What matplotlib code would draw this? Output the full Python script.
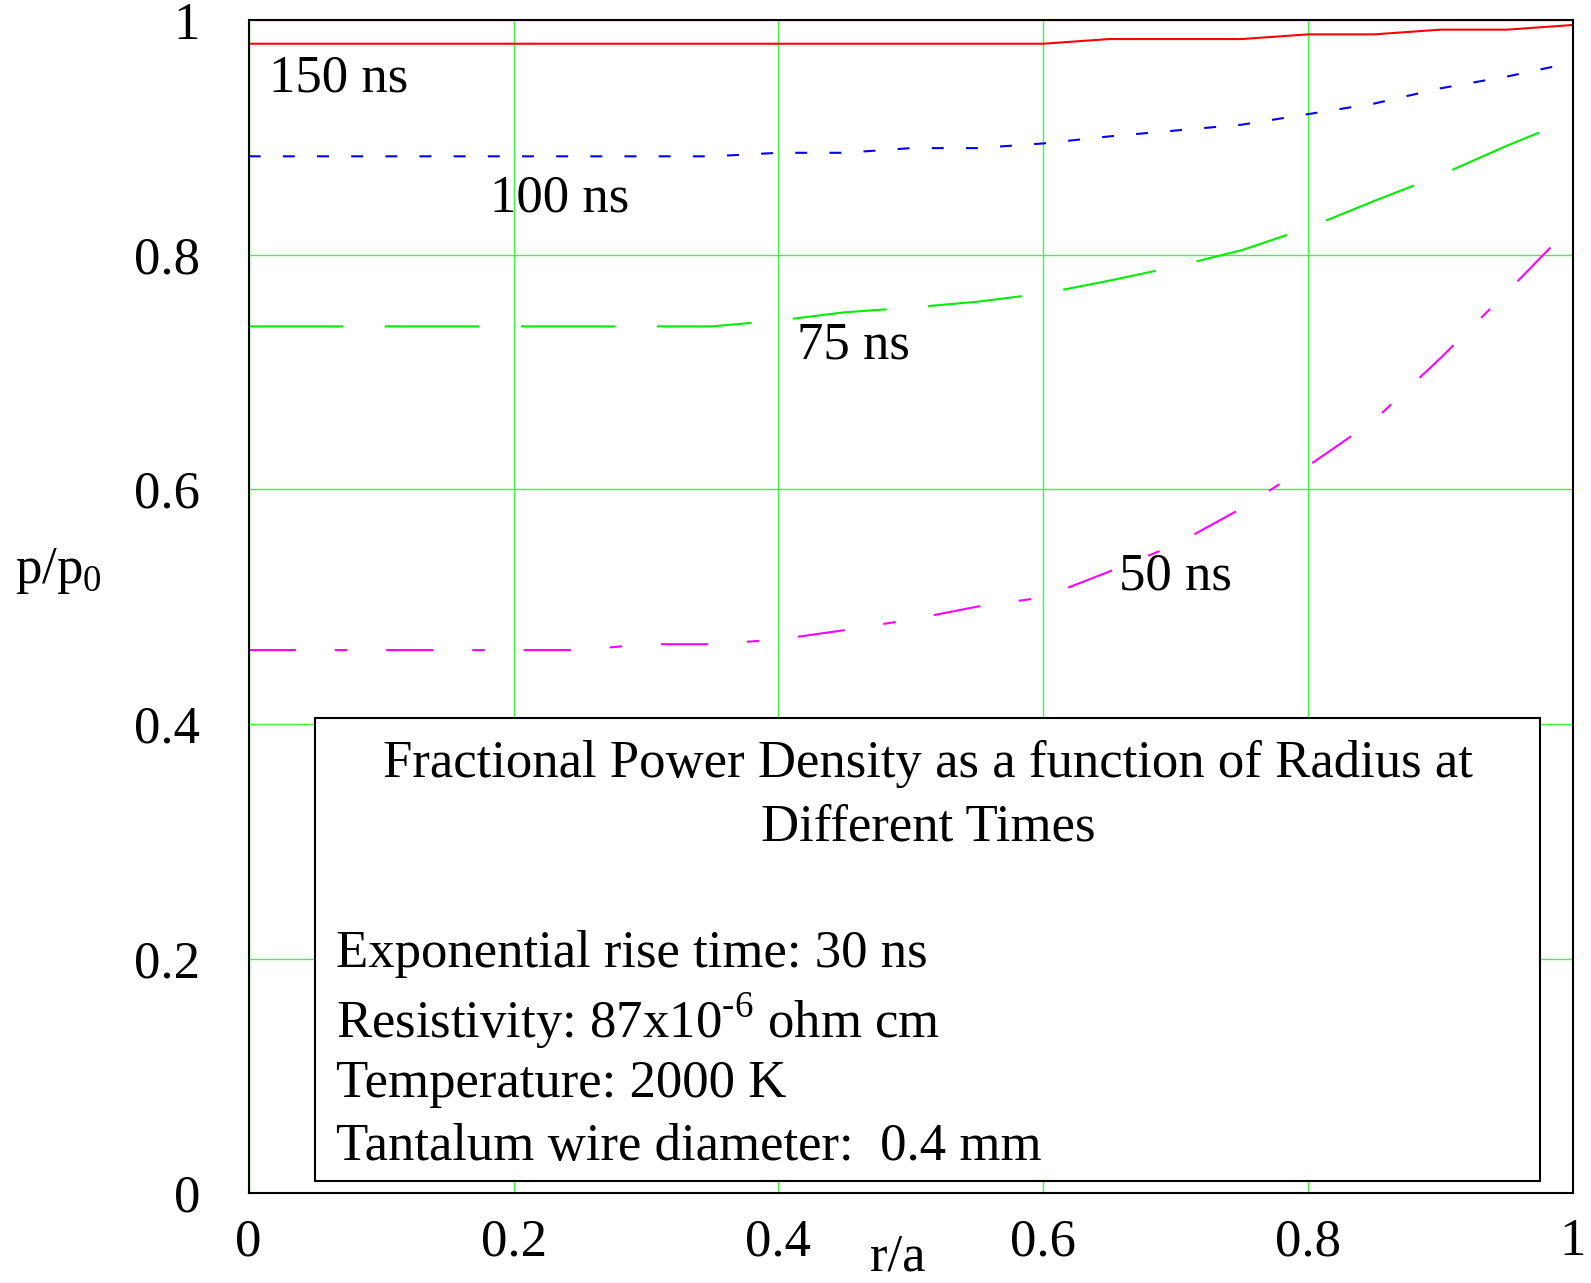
import matplotlib
matplotlib.use("Agg")
import matplotlib.pyplot as plt
from matplotlib.patches import Rectangle

# r/a sample points (every 0.05)
r = [0.0, 0.05, 0.1, 0.15, 0.2, 0.25, 0.3, 0.35, 0.4, 0.45, 0.5,
     0.55, 0.6, 0.65, 0.7, 0.75, 0.8, 0.85, 0.9, 0.95, 1.0]

# p/p0
p150 = [0.980, 0.980, 0.980, 0.980, 0.980, 0.980, 0.980, 0.980, 0.980, 0.980, 0.980,
        0.980, 0.980, 0.984, 0.984, 0.984, 0.988, 0.988, 0.992, 0.992, 0.996]
p100 = [0.884, 0.884, 0.884, 0.884, 0.884, 0.884, 0.884, 0.884, 0.887, 0.887, 0.891,
        0.891, 0.895, 0.901, 0.906, 0.911, 0.920, 0.929, 0.942, 0.952, 0.964]
p75 = [0.739, 0.739, 0.739, 0.739, 0.739, 0.739, 0.739, 0.739, 0.744, 0.751, 0.755,
       0.760, 0.767, 0.778, 0.790, 0.804, 0.823, 0.846, 0.868, 0.893, 0.916]
p50 = [0.463, 0.463, 0.463, 0.463, 0.463, 0.463, 0.468, 0.468, 0.472, 0.480, 0.489,
       0.500, 0.508, 0.530, 0.553, 0.584, 0.620, 0.659, 0.712, 0.768, 0.826]

tick_vals = [0, 0.2, 0.4, 0.6, 0.8, 1]
tick_labels = ["0", "0.2", "0.4", "0.6", "0.8", "1"]

info_lines = ["Exponential rise time: 30 ns",
              r"Resistivity: 87x10$^{\text{-6}}$ ohm cm",
              "Temperature: 2000 K",
              "Tantalum wire diameter:  0.4 mm"]

plt.rcParams['font.family'] = ['Liberation Serif', 'DejaVu Serif']
plt.rcParams['mathtext.fontset'] = 'custom'
plt.rcParams['mathtext.rm'] = 'Liberation Serif'
plt.rcParams['lines.scale_dashes'] = False
fs = 38

fig = plt.figure(figsize=(15.91, 12.83), dpi=100)
ax = fig.add_axes([0.1563, 0.0701, 0.8324, 0.9141])

ax.plot(r, p150, color='red', lw=1.5, solid_capstyle='butt')
ax.plot(r, p100, color='blue', lw=1.5, dashes=(8.6, 16))
ax.plot(r, p75, color='#00ee00', lw=1.5, dashes=(68, 30))
ax.plot(r, p50, color='magenta', lw=1.5, dashes=(34, 28, 9, 28))

ax.set_xlim(0, 1)
ax.set_ylim(0, 1)
ax.set_xticks(tick_vals)
ax.set_xticklabels(tick_labels)
ax.set_yticks(tick_vals)
ax.set_yticklabels(tick_labels)
ax.tick_params(axis='both', length=0, labelsize=fs)
ax.tick_params(axis='x', pad=18)
ax.tick_params(axis='y', pad=35)
ax.grid(True, color='#33ff33', lw=1)
ax.set_axisbelow(True)
for s in ax.spines.values():
    s.set_linewidth(1.5)

# curve labels
ax.text(0.015, 0.950, "150 ns", fontsize=fs, va='center')
ax.text(0.182, 0.848, "100 ns", fontsize=fs, va='center')
ax.text(0.414, 0.723, "75 ns", fontsize=fs, va='center')
ax.text(0.657, 0.526, "50 ns", fontsize=fs, va='center')

# info box
ax.add_patch(Rectangle((0.050, 0.0104), 0.925, 0.3946, facecolor='white',
                       edgecolor='black', lw=1.5, zorder=5))
ax.text(0.513, 0.366, "Fractional Power Density as a function of Radius at",
        fontsize=fs, ha='center', va='center', zorder=6)
ax.text(0.513, 0.312, "Different Times", fontsize=fs, ha='center', va='center', zorder=6)
ys = [0.2035, 0.147, 0.093, 0.039]
for t, y in zip(info_lines, ys):
    ax.text(0.066, y, t, fontsize=fs, va='center', zorder=6)

ax.set_xlabel("r/a", fontsize=fs)
ax.xaxis.set_label_coords(0.49, -0.055)
ax.xaxis.label.set_va('center')
ax.set_ylabel(r"p/p$_{\mathregular{0}}$", fontsize=fs, rotation=0)
ax.yaxis.set_label_coords(-0.144, 0.53)
ax.yaxis.label.set_va('center')
ax.yaxis.label.set_ha('center')

fig.savefig("out.png", dpi=100)
